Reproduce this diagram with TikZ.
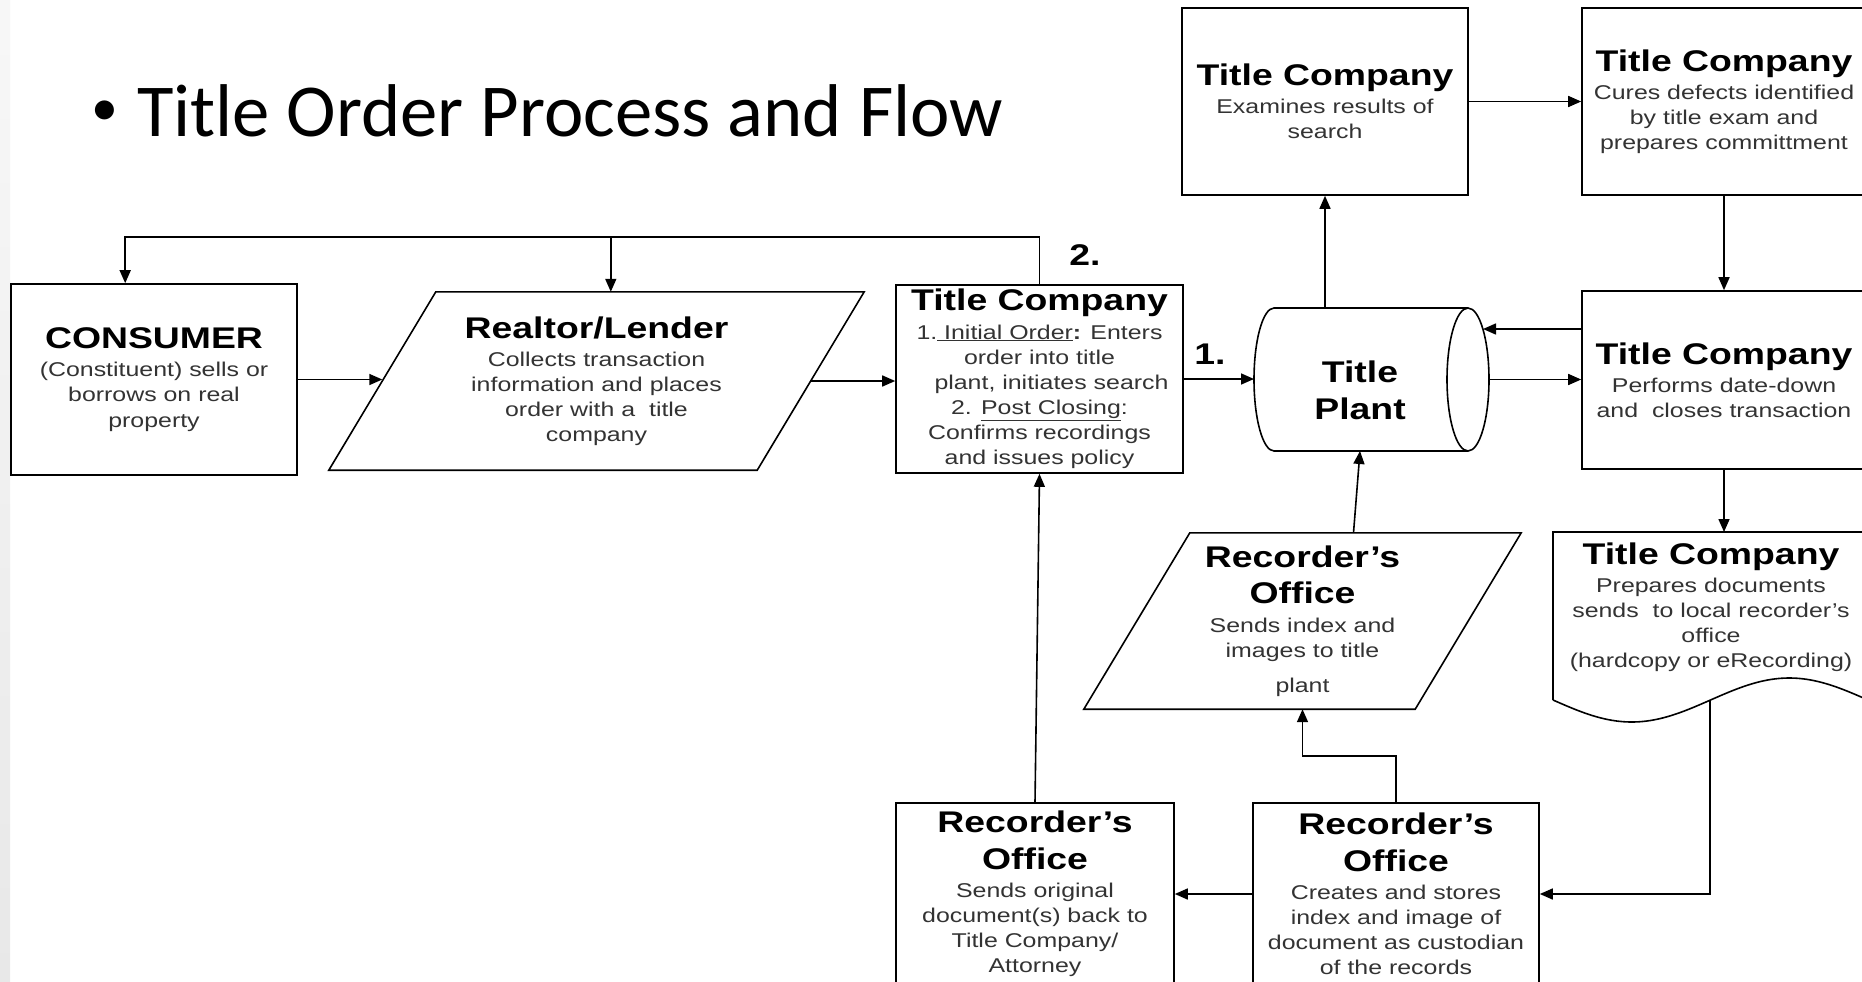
\documentclass[tikz,border=0pt]{standalone}
\usepackage{fontspec}
\setmainfont{Liberation Sans}[FakeStretch=1.25]
\newfontfamily\titlefont{Carlito}
\usetikzlibrary{arrows.meta,calc}
\newcommand\hdfont{\fontsize{30}{37}\selectfont\bfseries\color{black}}
\newcommand\bdfont{\fontsize{20}{25.2}\selectfont}
\tikzset{
  box/.style={draw=black, line width=1.6bp, rectangle, inner sep=0pt, align=center, font=\bdfont, text=black!80},
  txt/.style={inner sep=0pt, align=center, font=\bdfont, text=black!80},
  shp/.style={draw=black, line width=1.6bp},
  arr/.style={line width=1.6bp, -{Triangle[length=13bp,width=11bp]}},
  lbl/.style={inner sep=0pt, font=\fontsize{30}{36}\selectfont\bfseries},
}
\begin{document}
\begin{tikzpicture}[x=1bp, y=-1bp]
\path[use as bounding box] (0,0) rectangle (1862,981);
\clip (0,0) rectangle (1862,981);
\fill[white] (0,0) rectangle (1862,981);
\shade[top color=black!3, bottom color=black!9] (0,0) rectangle (10,981);

% title
\node[inner sep=0pt, font=\titlefont\fontsize{54}{60}\selectfont] (bullet) at (105,113) {•};
\node[anchor=base west, inner sep=0pt, font=\titlefont\fontsize{75}{80}\selectfont] (title) at (137,136) {Title Order Process and Flow};

% boxes
\node[box, minimum width=286bp, minimum height=191bp] (cons) at (154,379.5)
  {{\hdfont CONSUMER}\\[3bp](Constituent) sells or\\borrows on real\\property};
\node[txt, minimum width=535bp, minimum height=178bp] (rl) at (596.5,381)
  {{\hdfont Realtor/Lender}\\[3bp]Collects transaction\\information and places\\order with a\ \ title\\company};
\draw[shp] ($(rl.north west)+(107,0)$) -- (rl.north east) -- ($(rl.south east)+(-107,0)$) -- (rl.south west) -- cycle;
\node[box, minimum width=287bp, minimum height=188bp] (tc1) at (1039.5,379)
  {{\hdfont Title Company}\\[3bp]1.\underline{\ Initial Order}\textbf{:} Enters\\order into title\\\hspace*{24bp}plant, initiates search\\2. \underline{Post Closing}:\\Confirms recordings\\and issues policy};

% title plant
\coordinate (plantL) at (1254,379.5);
\coordinate (plantR) at (1489,379.5);
\coordinate (plantT) at (1325,308);
\coordinate (plantB) at (1360,451);
\coordinate (plantRU) at (1483,329);
\draw[shp] (1468,308) -- (1274,308) arc[start angle=90, end angle=270, x radius=20bp, y radius=71.5bp] -- (1468,451);
\draw[shp] (1468,379.5) ellipse [x radius=21bp, y radius=71.5bp];
\node[inner sep=0pt, align=center, font=\fontsize{30}{37}\selectfont\bfseries] (plant) at (1360,390) {Title\\Plant};

\node[box, minimum width=286bp, minimum height=187bp] (tc2) at (1325,101.5)
  {{\hdfont Title Company}\\[3bp]Examines results of\\search};
\node[box, minimum width=284bp, minimum height=187bp] (tc3) at (1724,101.5)
  {{\hdfont Title Company}\\[3bp]Cures defects identified\\by title exam and\\prepares committment};
\node[box, minimum width=284bp, minimum height=178bp] (tc4) at (1724,380)
  {{\hdfont Title Company}\\[3bp]Performs date-down\\and\ \ closes transaction};

% document shape
\coordinate (tc5T) at (1724,532);
\coordinate (tc5B) at (1710,700);
\draw[shp] (1553,700) -- (1553,532) -- (1868,532) -- (1868,700);
\draw[shp] plot[domain=0:1, samples=60, smooth] ({1553+315*\x},{700+22*sin(360*\x)});
\node[txt] (tc5) at (1711,607)
  {{\hdfont Title Company}\\[3bp]Prepares documents\\sends\ \ to local recorder's\\office\\(hardcopy or eRecording)};

\node[txt, minimum width=437bp, minimum height=176bp] (rp) at (1302.5,621)
  {{\hdfont Recorder’s}\\[11.8bp]{\hdfont Office}\\[3bp]Sends index and\\images to title\\[10.3bp]plant};
\draw[shp] ($(rp.north west)+(106,0)$) -- (rp.north east) -- ($(rp.south east)+(-106,0)$) -- (rp.south west) -- cycle;

\node[box, minimum width=278bp, minimum height=182bp] (rec1) at (1035,894)
  {{\hdfont Recorder’s}\\[11.8bp]{\hdfont Office}\\[3bp]Sends original\\document(s) back to\\Title Company/\\Attorney};
\node[box, minimum width=286bp, minimum height=182bp] (rec2) at (1396,894)
  {{\hdfont Recorder’s}\\[11.8bp]{\hdfont Office}\\[3bp]Creates and stores\\index and image of\\document as custodian\\of the records};

% labels
\node[lbl] (one) at (1210,354) {1.};
\node[lbl] (two) at (1085,255) {2.};

% connectors
\coordinate (tl) at ($(tc1.north)+(0,-47)$);
\coordinate (consin) at ($(cons.north west)+(115,0)$);
\coordinate (rlin) at ($(rl.north west)+(282,0)$);
\coordinate (rlW) at ($(rl.west)+(53.5,0)$);
\coordinate (rlE) at ($(rl.east)+(-53.5,0)$);
\coordinate (tc4a) at ($(tc4.west)+(0,-51)$);
\coordinate (rpT) at ($(rp.north)+(51,0)$);

\draw[arr] (tc1.north) -- (tl) -| (consin);
\draw[arr] (rlin |- tl) -- (rlin);
\draw[arr] (cons.east) -- (cons.east -| rlW);
\draw[arr] (rlE) -- (rlE -| tc1.west);
\draw[arr] (tc1.east) -- (tc1.east -| plantL);
\draw[arr] (plantT) -- (tc2.south);
\draw[arr] (tc2.east) -- (tc3.west);
\draw[arr] (tc3.south) -- (tc4.north);
\draw[arr] (tc4a) -- (plantRU);
\draw[arr] (plantR) -- (plantR -| tc4.west);
\draw[arr] (tc4.south) -- (tc5T);
\draw[arr] (tc5B) |- (rec2.east);
\draw[arr] (rec2.west) -- (rec1.east);
\draw[arr] (rec1.north) -- (tc1.south);
\draw[arr] (rec2.north) -- ++(0,-46) -| (rp.south);
\draw[arr] (rpT) -- (plantB);
\end{tikzpicture}
\end{document}
